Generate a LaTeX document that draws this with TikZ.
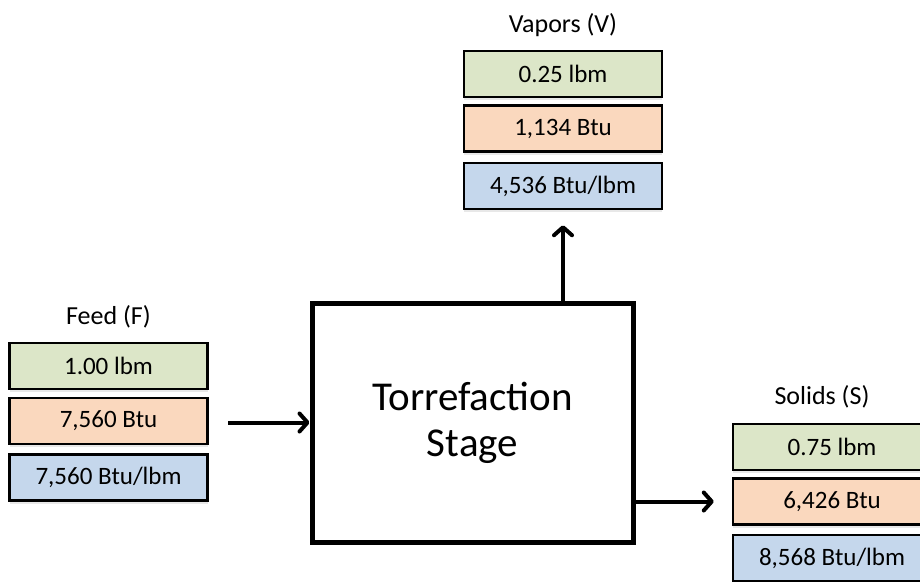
\documentclass[tikz,border=0pt]{standalone}
\usepackage{fontspec}
\setmainfont{Carlito}
\usetikzlibrary{arrows.meta,shadows}
\definecolor{cgreen}{HTML}{DCE6C8}
\definecolor{corange}{HTML}{FAD8BE}
\definecolor{cblue}{HTML}{C5D7EC}
\tikzset{
  valbox/.style={draw=black, line width=2.5pt, minimum width=198pt, minimum height=46pt, inner sep=0pt,
     font=\fontsize{25}{29}\selectfont, drop shadow={opacity=0.18, shadow xshift=0pt, shadow yshift=-3pt}},
  gbox/.style={valbox, fill=cgreen},
  obox/.style={valbox, fill=corange},
  bbox/.style={valbox, fill=cblue},
  widebox/.style={minimum width=240pt},
  title/.style={font=\fontsize{26}{30}\selectfont, inner sep=0pt},
  arr/.style={line width=4pt, -{Straight Barb[length=8pt,width=18pt,line cap=round,line join=round]}},
  stage/.style={draw=black, line width=5pt, fill=white, minimum width=321pt, minimum height=239pt,
     align=center, font=\fontsize{41}{46}\selectfont, drop shadow={opacity=0.18, shadow xshift=0pt, shadow yshift=-3pt}}
}
\begin{document}
\begin{tikzpicture}[x=1pt,y=-1pt]
\useasboundingbox (0,0) rectangle (920,581);
\clip (0,0) rectangle (920,581);
% main stage
\node[stage] (main) at (472.5,422.5) {Torrefaction\\Stage};
% feed
\node[title] (ft) at (108.5,317) {Feed (F)};
\node[gbox] (f1) at (108.5,366) {1.00 lbm};
\node[obox] (f2) at (108.5,421) {7,560 Btu};
\node[bbox] (f3) at (108.5,477.5) {7,560 Btu/lbm};
% vapors
\node[title] (vt) at (563,25) {Vapors (V)};
\node[gbox] (v1) at (563,74) {0.25 lbm};
\node[obox] (v2) at (563,128.5) {1,134 Btu};
\node[bbox] (v3) at (563,186) {4,536 Btu/lbm};
% solids (boxes run past the right edge of the picture)
\node[title] (st) at (822,397) {Solids (S)};
\node[gbox, widebox] (s1) at (853,447) {0.75 lbm\hspace*{42pt}};
\node[obox, widebox] (s2) at (853,501.5) {6,426 Btu\hspace*{42pt}};
\node[bbox, widebox] (s3) at (853,558) {8,568 Btu/lbm\hspace*{42pt}};
% connectors
\coordinate (fs) at (228,422.5);
\draw[arr] (fs) -- (main.west);
\draw[arr, shorten >=15pt] (main.north -| v3.south) -- (v3.south);
\draw[arr, shorten >=18pt] (main.east |- s2.west) -- (s2.west);
\end{tikzpicture}
\end{document}
